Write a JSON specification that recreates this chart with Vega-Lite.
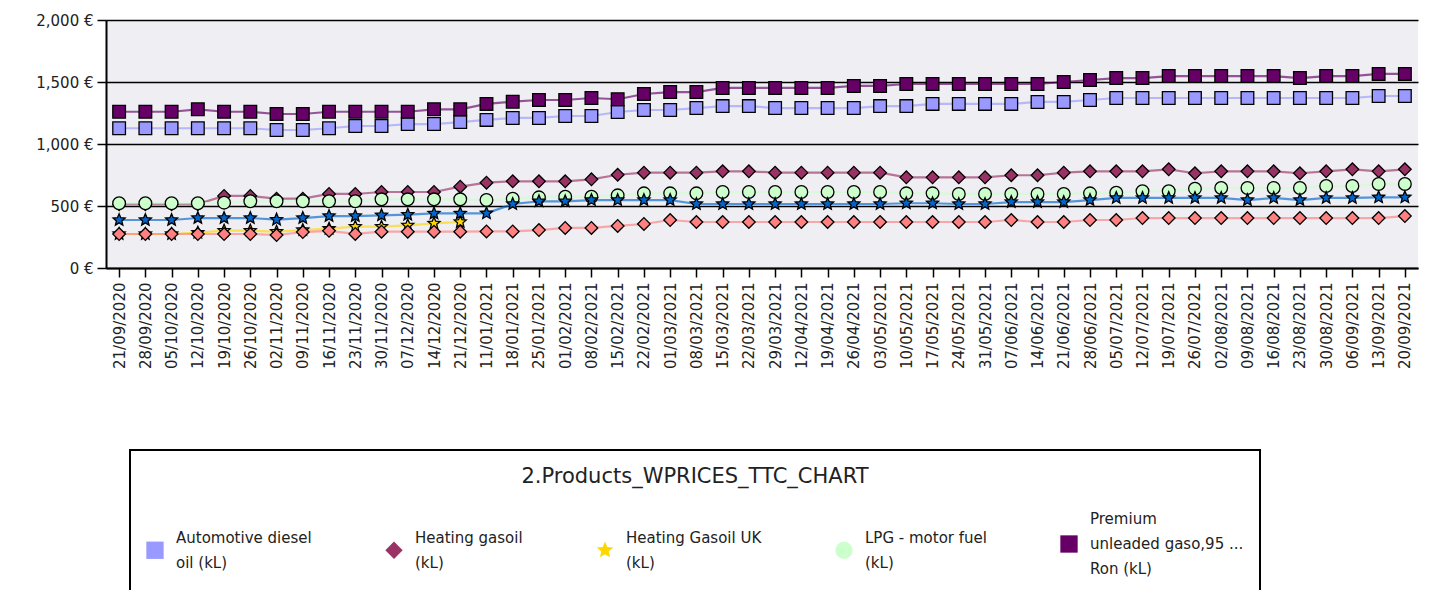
{
  "$schema": "https://vega.github.io/schema/vega-lite/v6.json",
  "width": 1312,
  "height": 248,
  "autosize": "none",
  "padding": {"left": 106, "top": 20, "right": 13, "bottom": 322},
  "background": "white",
  "config": {
    "view": {"fill": "#eeeef3", "stroke": null},
    "font": "DejaVu Sans"
  },
  "data": {
    "values": [
      {"Date": "21/09/2020", "Automotive diesel oil (kL)": 1127, "Heating gasoil (kL)": 515, "Heating Gasoil UK (kL)": 274, "LPG - motor fuel (kL)": 522, "Premium unleaded gaso,95 Ron (kL)": 1260, "Fuel oil (t)": 274, "Fuel oil UK (t)": 387},
      {"Date": "28/09/2020", "Automotive diesel oil (kL)": 1127, "Heating gasoil (kL)": 515, "Heating Gasoil UK (kL)": 274, "LPG - motor fuel (kL)": 522, "Premium unleaded gaso,95 Ron (kL)": 1260, "Fuel oil (t)": 274, "Fuel oil UK (t)": 387},
      {"Date": "05/10/2020", "Automotive diesel oil (kL)": 1127, "Heating gasoil (kL)": 515, "Heating Gasoil UK (kL)": 274, "LPG - motor fuel (kL)": 522, "Premium unleaded gaso,95 Ron (kL)": 1260, "Fuel oil (t)": 274, "Fuel oil UK (t)": 387},
      {"Date": "12/10/2020", "Automotive diesel oil (kL)": 1127, "Heating gasoil (kL)": 515, "Heating Gasoil UK (kL)": 285, "LPG - motor fuel (kL)": 522, "Premium unleaded gaso,95 Ron (kL)": 1280, "Fuel oil (t)": 274, "Fuel oil UK (t)": 403},
      {"Date": "19/10/2020", "Automotive diesel oil (kL)": 1127, "Heating gasoil (kL)": 581, "Heating Gasoil UK (kL)": 301, "LPG - motor fuel (kL)": 527, "Premium unleaded gaso,95 Ron (kL)": 1260, "Fuel oil (t)": 274, "Fuel oil UK (t)": 403},
      {"Date": "26/10/2020", "Automotive diesel oil (kL)": 1127, "Heating gasoil (kL)": 581, "Heating Gasoil UK (kL)": 301, "LPG - motor fuel (kL)": 538, "Premium unleaded gaso,95 Ron (kL)": 1260, "Fuel oil (t)": 274, "Fuel oil UK (t)": 403},
      {"Date": "02/11/2020", "Automotive diesel oil (kL)": 1113, "Heating gasoil (kL)": 559, "Heating Gasoil UK (kL)": 293, "LPG - motor fuel (kL)": 538, "Premium unleaded gaso,95 Ron (kL)": 1242, "Fuel oil (t)": 266, "Fuel oil UK (t)": 390},
      {"Date": "09/11/2020", "Automotive diesel oil (kL)": 1113, "Heating gasoil (kL)": 559, "Heating Gasoil UK (kL)": 306, "LPG - motor fuel (kL)": 538, "Premium unleaded gaso,95 Ron (kL)": 1242, "Fuel oil (t)": 290, "Fuel oil UK (t)": 403},
      {"Date": "16/11/2020", "Automotive diesel oil (kL)": 1127, "Heating gasoil (kL)": 597, "Heating Gasoil UK (kL)": 317, "LPG - motor fuel (kL)": 538, "Premium unleaded gaso,95 Ron (kL)": 1260, "Fuel oil (t)": 300, "Fuel oil UK (t)": 419},
      {"Date": "23/11/2020", "Automotive diesel oil (kL)": 1145, "Heating gasoil (kL)": 597, "Heating Gasoil UK (kL)": 333, "LPG - motor fuel (kL)": 538, "Premium unleaded gaso,95 Ron (kL)": 1260, "Fuel oil (t)": 275, "Fuel oil UK (t)": 419},
      {"Date": "30/11/2020", "Automotive diesel oil (kL)": 1145, "Heating gasoil (kL)": 613, "Heating Gasoil UK (kL)": 333, "LPG - motor fuel (kL)": 554, "Premium unleaded gaso,95 Ron (kL)": 1260, "Fuel oil (t)": 293, "Fuel oil UK (t)": 425},
      {"Date": "07/12/2020", "Automotive diesel oil (kL)": 1161, "Heating gasoil (kL)": 613, "Heating Gasoil UK (kL)": 344, "LPG - motor fuel (kL)": 554, "Premium unleaded gaso,95 Ron (kL)": 1260, "Fuel oil (t)": 293, "Fuel oil UK (t)": 430},
      {"Date": "14/12/2020", "Automotive diesel oil (kL)": 1161, "Heating gasoil (kL)": 613, "Heating Gasoil UK (kL)": 360, "LPG - motor fuel (kL)": 554, "Premium unleaded gaso,95 Ron (kL)": 1280, "Fuel oil (t)": 293, "Fuel oil UK (t)": 440},
      {"Date": "21/12/2020", "Automotive diesel oil (kL)": 1177, "Heating gasoil (kL)": 656, "Heating Gasoil UK (kL)": 371, "LPG - motor fuel (kL)": 554, "Premium unleaded gaso,95 Ron (kL)": 1280, "Fuel oil (t)": 293, "Fuel oil UK (t)": 440},
      {"Date": "11/01/2021", "Automotive diesel oil (kL)": 1194, "Heating gasoil (kL)": 688, "LPG - motor fuel (kL)": 548, "Premium unleaded gaso,95 Ron (kL)": 1323, "Fuel oil (t)": 295, "Fuel oil UK (t)": 441},
      {"Date": "18/01/2021", "Automotive diesel oil (kL)": 1210, "Heating gasoil (kL)": 699, "LPG - motor fuel (kL)": 559, "Premium unleaded gaso,95 Ron (kL)": 1341, "Fuel oil (t)": 295, "Fuel oil UK (t)": 516},
      {"Date": "25/01/2021", "Automotive diesel oil (kL)": 1210, "Heating gasoil (kL)": 699, "LPG - motor fuel (kL)": 570, "Premium unleaded gaso,95 Ron (kL)": 1355, "Fuel oil (t)": 306, "Fuel oil UK (t)": 538},
      {"Date": "01/02/2021", "Automotive diesel oil (kL)": 1226, "Heating gasoil (kL)": 699, "LPG - motor fuel (kL)": 575, "Premium unleaded gaso,95 Ron (kL)": 1355, "Fuel oil (t)": 323, "Fuel oil UK (t)": 538},
      {"Date": "08/02/2021", "Automotive diesel oil (kL)": 1226, "Heating gasoil (kL)": 715, "LPG - motor fuel (kL)": 575, "Premium unleaded gaso,95 Ron (kL)": 1371, "Fuel oil (t)": 323, "Fuel oil UK (t)": 548},
      {"Date": "15/02/2021", "Automotive diesel oil (kL)": 1258, "Heating gasoil (kL)": 752, "LPG - motor fuel (kL)": 586, "Premium unleaded gaso,95 Ron (kL)": 1361, "Fuel oil (t)": 339, "Fuel oil UK (t)": 548},
      {"Date": "22/02/2021", "Automotive diesel oil (kL)": 1274, "Heating gasoil (kL)": 769, "LPG - motor fuel (kL)": 602, "Premium unleaded gaso,95 Ron (kL)": 1403, "Fuel oil (t)": 355, "Fuel oil UK (t)": 548},
      {"Date": "01/03/2021", "Automotive diesel oil (kL)": 1274, "Heating gasoil (kL)": 769, "LPG - motor fuel (kL)": 602, "Premium unleaded gaso,95 Ron (kL)": 1419, "Fuel oil (t)": 387, "Fuel oil UK (t)": 548},
      {"Date": "08/03/2021", "Automotive diesel oil (kL)": 1290, "Heating gasoil (kL)": 769, "LPG - motor fuel (kL)": 602, "Premium unleaded gaso,95 Ron (kL)": 1419, "Fuel oil (t)": 371, "Fuel oil UK (t)": 516},
      {"Date": "15/03/2021", "Automotive diesel oil (kL)": 1306, "Heating gasoil (kL)": 780, "LPG - motor fuel (kL)": 613, "Premium unleaded gaso,95 Ron (kL)": 1452, "Fuel oil (t)": 371, "Fuel oil UK (t)": 516},
      {"Date": "22/03/2021", "Automotive diesel oil (kL)": 1306, "Heating gasoil (kL)": 780, "LPG - motor fuel (kL)": 613, "Premium unleaded gaso,95 Ron (kL)": 1452, "Fuel oil (t)": 371, "Fuel oil UK (t)": 516},
      {"Date": "29/03/2021", "Automotive diesel oil (kL)": 1290, "Heating gasoil (kL)": 769, "LPG - motor fuel (kL)": 613, "Premium unleaded gaso,95 Ron (kL)": 1452, "Fuel oil (t)": 371, "Fuel oil UK (t)": 516},
      {"Date": "12/04/2021", "Automotive diesel oil (kL)": 1290, "Heating gasoil (kL)": 769, "LPG - motor fuel (kL)": 613, "Premium unleaded gaso,95 Ron (kL)": 1452, "Fuel oil (t)": 371, "Fuel oil UK (t)": 516},
      {"Date": "19/04/2021", "Automotive diesel oil (kL)": 1290, "Heating gasoil (kL)": 769, "LPG - motor fuel (kL)": 613, "Premium unleaded gaso,95 Ron (kL)": 1452, "Fuel oil (t)": 371, "Fuel oil UK (t)": 516},
      {"Date": "26/04/2021", "Automotive diesel oil (kL)": 1290, "Heating gasoil (kL)": 769, "LPG - motor fuel (kL)": 613, "Premium unleaded gaso,95 Ron (kL)": 1468, "Fuel oil (t)": 371, "Fuel oil UK (t)": 516},
      {"Date": "03/05/2021", "Automotive diesel oil (kL)": 1306, "Heating gasoil (kL)": 769, "LPG - motor fuel (kL)": 613, "Premium unleaded gaso,95 Ron (kL)": 1468, "Fuel oil (t)": 371, "Fuel oil UK (t)": 516},
      {"Date": "10/05/2021", "Automotive diesel oil (kL)": 1306, "Heating gasoil (kL)": 731, "LPG - motor fuel (kL)": 602, "Premium unleaded gaso,95 Ron (kL)": 1484, "Fuel oil (t)": 371, "Fuel oil UK (t)": 522},
      {"Date": "17/05/2021", "Automotive diesel oil (kL)": 1323, "Heating gasoil (kL)": 731, "LPG - motor fuel (kL)": 602, "Premium unleaded gaso,95 Ron (kL)": 1484, "Fuel oil (t)": 371, "Fuel oil UK (t)": 522},
      {"Date": "24/05/2021", "Automotive diesel oil (kL)": 1323, "Heating gasoil (kL)": 731, "LPG - motor fuel (kL)": 597, "Premium unleaded gaso,95 Ron (kL)": 1484, "Fuel oil (t)": 371, "Fuel oil UK (t)": 516},
      {"Date": "31/05/2021", "Automotive diesel oil (kL)": 1323, "Heating gasoil (kL)": 731, "LPG - motor fuel (kL)": 597, "Premium unleaded gaso,95 Ron (kL)": 1484, "Fuel oil (t)": 371, "Fuel oil UK (t)": 516},
      {"Date": "07/06/2021", "Automotive diesel oil (kL)": 1323, "Heating gasoil (kL)": 748, "LPG - motor fuel (kL)": 597, "Premium unleaded gaso,95 Ron (kL)": 1484, "Fuel oil (t)": 387, "Fuel oil UK (t)": 532},
      {"Date": "14/06/2021", "Automotive diesel oil (kL)": 1339, "Heating gasoil (kL)": 748, "LPG - motor fuel (kL)": 597, "Premium unleaded gaso,95 Ron (kL)": 1484, "Fuel oil (t)": 371, "Fuel oil UK (t)": 532},
      {"Date": "21/06/2021", "Automotive diesel oil (kL)": 1339, "Heating gasoil (kL)": 769, "LPG - motor fuel (kL)": 597, "Premium unleaded gaso,95 Ron (kL)": 1500, "Fuel oil (t)": 371, "Fuel oil UK (t)": 532},
      {"Date": "28/06/2021", "Automotive diesel oil (kL)": 1355, "Heating gasoil (kL)": 780, "LPG - motor fuel (kL)": 602, "Premium unleaded gaso,95 Ron (kL)": 1516, "Fuel oil (t)": 387, "Fuel oil UK (t)": 548},
      {"Date": "05/07/2021", "Automotive diesel oil (kL)": 1371, "Heating gasoil (kL)": 780, "LPG - motor fuel (kL)": 607, "Premium unleaded gaso,95 Ron (kL)": 1532, "Fuel oil (t)": 387, "Fuel oil UK (t)": 565},
      {"Date": "12/07/2021", "Automotive diesel oil (kL)": 1371, "Heating gasoil (kL)": 780, "LPG - motor fuel (kL)": 619, "Premium unleaded gaso,95 Ron (kL)": 1532, "Fuel oil (t)": 403, "Fuel oil UK (t)": 565},
      {"Date": "19/07/2021", "Automotive diesel oil (kL)": 1371, "Heating gasoil (kL)": 796, "LPG - motor fuel (kL)": 619, "Premium unleaded gaso,95 Ron (kL)": 1548, "Fuel oil (t)": 403, "Fuel oil UK (t)": 565},
      {"Date": "26/07/2021", "Automotive diesel oil (kL)": 1371, "Heating gasoil (kL)": 764, "LPG - motor fuel (kL)": 640, "Premium unleaded gaso,95 Ron (kL)": 1548, "Fuel oil (t)": 403, "Fuel oil UK (t)": 565},
      {"Date": "02/08/2021", "Automotive diesel oil (kL)": 1371, "Heating gasoil (kL)": 780, "LPG - motor fuel (kL)": 645, "Premium unleaded gaso,95 Ron (kL)": 1548, "Fuel oil (t)": 403, "Fuel oil UK (t)": 565},
      {"Date": "09/08/2021", "Automotive diesel oil (kL)": 1371, "Heating gasoil (kL)": 780, "LPG - motor fuel (kL)": 645, "Premium unleaded gaso,95 Ron (kL)": 1548, "Fuel oil (t)": 403, "Fuel oil UK (t)": 548},
      {"Date": "16/08/2021", "Automotive diesel oil (kL)": 1371, "Heating gasoil (kL)": 780, "LPG - motor fuel (kL)": 645, "Premium unleaded gaso,95 Ron (kL)": 1548, "Fuel oil (t)": 403, "Fuel oil UK (t)": 565},
      {"Date": "23/08/2021", "Automotive diesel oil (kL)": 1371, "Heating gasoil (kL)": 764, "LPG - motor fuel (kL)": 645, "Premium unleaded gaso,95 Ron (kL)": 1532, "Fuel oil (t)": 403, "Fuel oil UK (t)": 548},
      {"Date": "30/08/2021", "Automotive diesel oil (kL)": 1371, "Heating gasoil (kL)": 780, "LPG - motor fuel (kL)": 661, "Premium unleaded gaso,95 Ron (kL)": 1548, "Fuel oil (t)": 403, "Fuel oil UK (t)": 565},
      {"Date": "06/09/2021", "Automotive diesel oil (kL)": 1371, "Heating gasoil (kL)": 796, "LPG - motor fuel (kL)": 661, "Premium unleaded gaso,95 Ron (kL)": 1548, "Fuel oil (t)": 403, "Fuel oil UK (t)": 565},
      {"Date": "13/09/2021", "Automotive diesel oil (kL)": 1387, "Heating gasoil (kL)": 780, "LPG - motor fuel (kL)": 677, "Premium unleaded gaso,95 Ron (kL)": 1565, "Fuel oil (t)": 403, "Fuel oil UK (t)": 570},
      {"Date": "20/09/2021", "Automotive diesel oil (kL)": 1387, "Heating gasoil (kL)": 796, "LPG - motor fuel (kL)": 677, "Premium unleaded gaso,95 Ron (kL)": 1565, "Fuel oil (t)": 419, "Fuel oil UK (t)": 570}
    ]
  },
  "transform": [
    {"fold": ["Automotive diesel oil (kL)", "Heating gasoil (kL)", "Heating Gasoil UK (kL)", "LPG - motor fuel (kL)", "Premium unleaded gaso,95 Ron (kL)", "Fuel oil (t)", "Fuel oil UK (t)"], "as": ["Product", "Price"]}
  ],
  "encoding": {
    "x": {
      "field": "Date", "type": "ordinal", "sort": null, "title": null,
      "scale": {"type": "point", "padding": 0.5},
      "axis": {
        "labelAngle": -90, "labelFontSize": 15, "labelColor": "#222222", "labelPadding": 5,
        "labelOverlap": false, "tickColor": "black", "tickSize": 9, "tickWidth": 1.5,
        "domainColor": "black", "domainWidth": 2, "grid": false
      }
    },
    "y": {
      "field": "Price", "type": "quantitative", "title": null,
      "scale": {"domain": [0, 2000], "nice": false},
      "axis": {
        "values": [0, 500, 1000, 1500, 2000],
        "labelExpr": "format(datum.value, ',') + ' €'",
        "labelFontSize": 15, "labelColor": "#222222", "labelPadding": 4,
        "grid": true, "gridColor": "black", "gridWidth": 1.5, "gridOpacity": 1,
        "domainColor": "black", "domainWidth": 2, "tickColor": "black", "tickSize": 9, "tickWidth": 1.5
      }
    },
    "color": {
      "field": "Product", "type": "nominal",
      "scale": {
        "domain": ["Automotive diesel oil (kL)", "Heating gasoil (kL)", "Heating Gasoil UK (kL)", "LPG - motor fuel (kL)", "Premium unleaded gaso,95 Ron (kL)", "Fuel oil (t)", "Fuel oil UK (t)"],
        "range": ["#9999ff", "#993366", "#ffd700", "#ccffcc", "#660066", "#ff8080", "#0066cc"]
      },
      "legend": {
        "title": ["2.Products_WPRICES_TTC_CHART"],
        "orient": "none", "legendX": 24, "legendY": 430,
        "direction": "horizontal", "columns": 5,
        "columnPadding": 73, "rowPadding": 50, "padding": 16,
        "strokeColor": "black", "fillColor": "white",
        "titleAnchor": "middle", "titleFontSize": 21, "titleFontWeight": "normal", "titleColor": "#222222", "titlePadding": 48, "titleLimit": 1000,
        "labelFontSize": 15, "labelColor": "#222222", "labelLimit": 400, "labelOffset": 12,
        "symbolSize": 300, "symbolStrokeWidth": 0, "symbolOpacity": 1,
        "labelExpr": "datum.label == 'Automotive diesel oil (kL)' ? ['Automotive diesel', 'oil (kL)'] : datum.label == 'Heating gasoil (kL)' ? ['Heating gasoil', '(kL)'] : datum.label == 'Heating Gasoil UK (kL)' ? ['Heating Gasoil UK', '(kL)'] : datum.label == 'LPG - motor fuel (kL)' ? ['LPG - motor fuel', '(kL)'] : datum.label == 'Premium unleaded gaso,95 Ron (kL)' ? ['Premium', 'unleaded gaso,95 ...', 'Ron (kL)'] : datum.label",
        "encode": {
          "legend": {"update": {"strokeWidth": {"value": 2}}},
          "labels": {"update": {
            "lineHeight": {"value": 25},
            "dy": {"signal": "datum.value == 'Premium unleaded gaso,95 Ron (kL)' ? -25 : (datum.value == 'Fuel oil (t)' || datum.value == 'Fuel oil UK (t)') ? 0 : -12.5"}
          }}
        }
      }
    }
  },
  "layer": [
    {
      "mark": {"type": "line", "strokeWidth": 2.2, "opacity": 0.65}
    },
    {
      "mark": {"type": "point", "filled": true, "opacity": 1, "stroke": "black", "strokeWidth": 1.3, "size": 160},
      "encoding": {
        "shape": {
          "field": "Product", "type": "nominal",
          "scale": {
            "domain": ["Automotive diesel oil (kL)", "Heating gasoil (kL)", "Heating Gasoil UK (kL)", "LPG - motor fuel (kL)", "Premium unleaded gaso,95 Ron (kL)", "Fuel oil (t)", "Fuel oil UK (t)"],
            "range": ["square", "diamond", "M0,-1L0.265,-0.364L0.951,-0.309L0.428,0.139L0.588,0.809L0,0.45L-0.588,0.809L-0.428,0.139L-0.951,-0.309L-0.265,-0.364Z", "circle", "square", "diamond", "M0,-1L0.265,-0.364L0.951,-0.309L0.428,0.139L0.588,0.809L0,0.45L-0.588,0.809L-0.428,0.139L-0.951,-0.309L-0.265,-0.364Z"]
          }
        }
      }
    }
  ]
}
